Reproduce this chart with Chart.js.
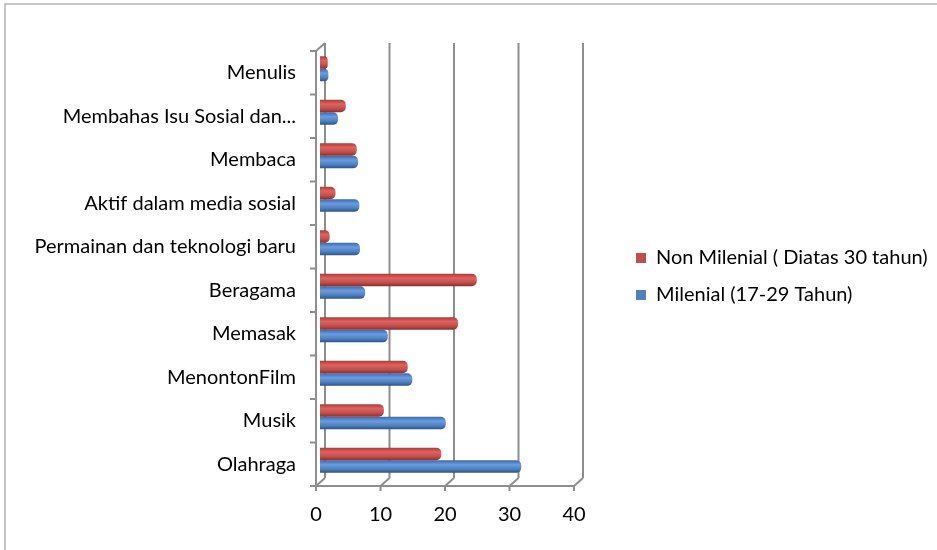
<!DOCTYPE html>
<html>
<head>
<meta charset="utf-8">
<script src="https://cdn.jsdelivr.net/npm/chart.js@4"></script>
<style>
  html, body { margin: 0; padding: 0; background: #fff; }
  #wrap { width: 937px; height: 550px; }
</style>
</head>
<body>
<div id="wrap"><canvas id="chart"></canvas></div>
<script>
// kategori dari atas ke bawah
const categories = ['Menulis', 'Membahas Isu Sosial dan...', 'Membaca', 'Aktif dalam media sosial',
  'Permainan dan teknologi baru', 'Beragama', 'Memasak', 'MenontonFilm', 'Musik', 'Olahraga'];
const nonMilenial = [1.2, 4.0, 5.7, 2.4, 1.5, 24.3, 21.4, 13.6, 9.9, 18.8];
const milenial = [1.3, 2.8, 5.9, 6.1, 6.2, 7.0, 10.5, 14.3, 19.5, 31.2];
const xTicks = [0, 10, 20, 30, 40];
const seriesColors = ['#c0504d', '#4f81bd'];

const FONT = 'Lato, Calibri, sans-serif';
const FONT_SIZE = 20;
const FRONT = { dx: -4, dy: 4 };
const BACK = { dx: 5, dy: -4 };
const GRID = '#8e8e8e';

function cylinder(stops, base) {
  return function (c) {
    const el = c.element;
    if (!el || el.y === undefined || !el.height) return base;
    const g = c.chart.ctx.createLinearGradient(0, el.y - el.height / 2, 0, el.y + el.height / 2);
    g.addColorStop(0, stops[0]);
    g.addColorStop(0.35, stops[1]);
    g.addColorStop(0.7, stops[2]);
    g.addColorStop(1, stops[3]);
    return g;
  };
}

// rahmen 3D (dinding belakang, sumbu depan)
const frame3d = {
  id: 'frame3d',
  beforeDraw(chart) {
    const ctx = chart.ctx;
    ctx.save();
    ctx.strokeStyle = '#b4b4b4';
    ctx.lineWidth = 1.5;
    ctx.beginPath();
    ctx.moveTo(5, 550); ctx.lineTo(5, 4); ctx.lineTo(937, 4);
    ctx.stroke();
    ctx.restore();
  },
  beforeDatasetsDraw(chart) {
    const { ctx, chartArea: a, scales: { x, y } } = chart;
    ctx.save();
    ctx.strokeStyle = GRID;
    ctx.lineWidth = 2;
    ctx.beginPath();
    xTicks.forEach(v => {
      const px = x.getPixelForValue(v);
      // garis belakang
      ctx.moveTo(px + BACK.dx, a.top + BACK.dy);
      ctx.lineTo(px + BACK.dx, a.bottom + BACK.dy);
      // diagonal lantai
      ctx.moveTo(px + FRONT.dx, a.bottom + FRONT.dy);
      ctx.lineTo(px + BACK.dx, a.bottom + BACK.dy);
      // tick bawah
      ctx.moveTo(px + FRONT.dx, a.bottom + FRONT.dy);
      ctx.lineTo(px + FRONT.dx, a.bottom + FRONT.dy + 5);
    });
    // sumbu depan bawah
    ctx.moveTo(x.getPixelForValue(0) + FRONT.dx - 6, a.bottom + FRONT.dy);
    ctx.lineTo(x.getPixelForValue(40) + FRONT.dx, a.bottom + FRONT.dy);
    // dinding kiri
    const lx = a.left;
    ctx.moveTo(lx + FRONT.dx, a.top + FRONT.dy);
    ctx.lineTo(lx + FRONT.dx, a.bottom + FRONT.dy);
    ctx.moveTo(lx + FRONT.dx, a.top + FRONT.dy);
    ctx.lineTo(lx + BACK.dx, a.top + BACK.dy);
    const step = (a.bottom - a.top) / categories.length;
    for (let i = 0; i <= categories.length; i++) {
      const py = a.top + i * step + FRONT.dy;
      ctx.moveTo(lx + FRONT.dx - 6, py);
      ctx.lineTo(lx + FRONT.dx, py);
    }
    ctx.stroke();
    ctx.restore();
  },
  afterLayout(chart) {
    const l = chart.legend;
    if (!l) return;
    const sx = 619 - l.left;
    l.left += sx; l.right += sx;
    l.top -= 22; l.bottom -= 22;
  }
};

const chart = new Chart(document.getElementById('chart'), {
  type: 'bar',
  data: {
    labels: categories,
    datasets: [{
      label: 'Non Milenial ( Diatas 30 tahun)',
      data: nonMilenial,
      backgroundColor: cylinder(['#a53c39', '#e0625e', '#c0504d', '#8a2f2c'], seriesColors[0]),
      borderWidth: 0,
      borderRadius: { topRight: 5, bottomRight: 5 },
      borderSkipped: false
    }, {
      label: 'Milenial (17-29 Tahun)',
      data: milenial,
      backgroundColor: cylinder(['#3a69ad', '#6a9ce2', '#4f81bd', '#2c5288'], seriesColors[1]),
      borderWidth: 0,
      borderRadius: { topRight: 5, bottomRight: 5 },
      borderSkipped: false
    }]
  },
  options: {
    indexAxis: 'y',
    responsive: true,
    maintainAspectRatio: false,
    animation: false,
    categoryPercentage: 0.58,
    barPercentage: 1,
    layout: { padding: { left: 5, top: 47, right: 10, bottom: 0 } },
    plugins: {
      legend: {
        position: 'right',
        maxWidth: 400,
        labels: {
          color: '#000',
          font: { family: FONT, size: FONT_SIZE },
          boxWidth: 10,
          boxHeight: 10,
          padding: 17,
          generateLabels(chart) {
            const items = Chart.defaults.plugins.legend.labels.generateLabels(chart);
            items.forEach((it, i) => {
              it.fillStyle = seriesColors[i];
              it.strokeStyle = seriesColors[i];
              it.lineWidth = 0;
            });
            return items;
          }
        }
      },
      tooltip: { enabled: false }
    },
    scales: {
      x: {
        min: 0,
        max: 40,
        ticks: {
          stepSize: 10,
          color: '#000',
          font: { family: FONT, size: FONT_SIZE },
          labelOffset: -4,
          padding: 21,
          maxRotation: 0
        },
        grid: { display: false, drawTicks: false },
        border: { display: false },
        afterFit(s) { s.height = 68; }
      },
      y: {
        ticks: {
          color: '#000',
          font: { family: FONT, size: FONT_SIZE },
          padding: 24,
          labelOffset: 4,
          autoSkip: false
        },
        grid: { display: false, drawTicks: false },
        border: { display: false },
        afterFit(s) { s.width = 315; }
      }
    }
  },
  plugins: [frame3d]
});

// sesuaikan tepi kanan area plot
const dx = chart.chartArea.right - 578;
chart.options.layout.padding.right += dx;
chart.update();
</script>
</body>
</html>
